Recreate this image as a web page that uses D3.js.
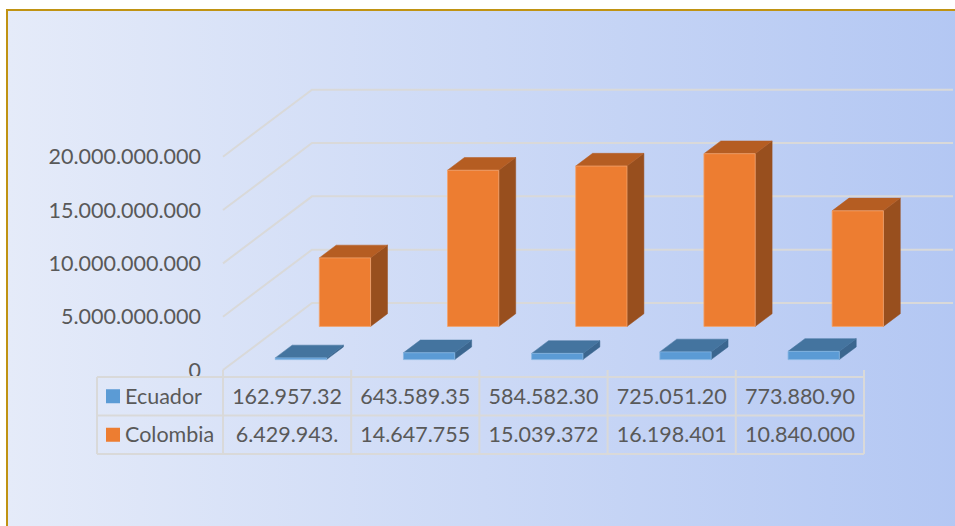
<!DOCTYPE html>
<html>
<head>
<meta charset="utf-8">
<script src="https://cdn.jsdelivr.net/npm/d3@7"></script>
<style>
  body { margin: 0; background: #fff; }
  svg { display: block; }
  text { font-family: Lato, "Open Sans", sans-serif; fill: #595959; }
</style>
</head>
<body>
<svg width="955" height="526"></svg>
<script>
var svg = d3.select("svg");

// data
var periods = ["1", "2", "3", "4", "5"];
var seriesNames = ["Ecuador", "Colombia"];
var ecuador = [162957320, 643589350, 584582300, 725051200, 773880900];
var colombia = [6429943000, 14647755000, 15039372000, 16198401000, 10840000000];
var yTicks = [0, 5000000000, 10000000000, 15000000000, 20000000000];

var width = 955;
var height = 526;
var plot = {left: 223, right: 864, bottom: 370, top: 156.7};
var depth = {dx: 89, dy: -67};

var xScale = d3.scaleBand().domain(periods).range([plot.left, plot.right]);
var yScale = d3.scaleLinear().domain([0, 20000000000]).range([plot.bottom, plot.top]);
// depth 0 = front plane, 1 = back wall
var dxScale = d3.scaleLinear().domain([0, 1]).range([0, depth.dx]);
var dyScale = d3.scaleLinear().domain([0, 1]).range([0, depth.dy]);

function pt(x, v, d) {
  return [x + dxScale(d), yScale(v) + dyScale(d)];
}

var fmtAxis = function(v) {
  return d3.format(",")(v).replace(/,/g, ".");
};
// table cells are too narrow, so the text gets cut like in the original
var fmtCell = function(v) {
  return fmtAxis(v).slice(0, 10);
};

// background + gold frame
var defs = svg.append("defs");
var grad = defs.append("linearGradient").attr("id", "bg")
  .attr("x1", "0%").attr("x2", "100%").attr("y1", "0%").attr("y2", "0%");
grad.append("stop").attr("offset", "0%").attr("stop-color", "#e5ebf9");
grad.append("stop").attr("offset", "100%").attr("stop-color", "#b3c7f3");

svg.append("rect")
  .attr("x", 7).attr("y", 10)
  .attr("width", width).attr("height", height)
  .attr("fill", "url(#bg)")
  .attr("stroke", "#c09313")
  .attr("stroke-width", 2);

// gridlines: diagonal on the side then along the back wall
var line = d3.line();
svg.append("g").selectAll("path")
  .data(yTicks)
  .enter().append("path")
  .attr("d", function(v) {
    return line([pt(plot.left, v, 0), pt(plot.left, v, 1), pt(plot.right, v, 1)]);
  })
  .attr("fill", "none")
  .attr("stroke", "#d9d9d9")
  .attr("stroke-width", 2);

// y axis labels
svg.append("g").selectAll("text")
  .data(yTicks)
  .enter().append("text")
  .attr("x", 201)
  .attr("y", function(v) { return yScale(v); })
  .attr("dy", "0.36em")
  .attr("text-anchor", "end")
  .style("font-size", "21.5px")
  .text(function(v) { return fmtAxis(v); });

// 3D bars
var rows = [
  {name: "Colombia", values: colombia, d0: 0.65, front: "#ed7d31", top: "#b55d22", side: "#984f1e", edge: "#f2a36d"},
  {name: "Ecuador", values: ecuador, d0: 0.155, front: "#5b9bd5", top: "#44749f", side: "#3b668f", edge: "#86b6e2"}
];
var barDepth = 0.19;
var barFrac = 0.4;

rows.forEach(function(row) {
  var g = svg.append("g");
  row.values.forEach(function(v, i) {
    var bw = xScale.bandwidth() * barFrac;
    var x0 = xScale(periods[i]) + (xScale.bandwidth() - bw) / 2;
    var x1 = x0 + bw;
    var d0 = row.d0, d1 = row.d0 + barDepth;
    var front = [pt(x0, 0, d0), pt(x1, 0, d0), pt(x1, v, d0), pt(x0, v, d0)];
    var top = [pt(x0, v, d0), pt(x1, v, d0), pt(x1, v, d1), pt(x0, v, d1)];
    var side = [pt(x1, 0, d0), pt(x1, 0, d1), pt(x1, v, d1), pt(x1, v, d0)];
    g.append("path").attr("d", line(side) + "Z").attr("fill", row.side)
      .attr("stroke", row.side).attr("stroke-width", 0.5);
    g.append("path").attr("d", line(top) + "Z").attr("fill", row.top)
      .attr("stroke", row.top).attr("stroke-width", 0.5);
    g.append("path").attr("d", line(front) + "Z").attr("fill", row.front)
      .attr("stroke", row.edge).attr("stroke-width", 0.8);
  });
});

// data table
var table = {left: 97, top: 377, rowH: 38.5};
var tableData = [
  {name: "Ecuador", values: ecuador, color: "#5b9bd5"},
  {name: "Colombia", values: colombia, color: "#ed7d31"}
];
var tg = svg.append("g");
var gridColor = "#d9d9d9";
var tableBottom = table.top + table.rowH * tableData.length;

// horizontal lines
d3.range(tableData.length + 1).forEach(function(r) {
  tg.append("line")
    .attr("x1", table.left).attr("x2", plot.right)
    .attr("y1", table.top + r * table.rowH).attr("y2", table.top + r * table.rowH)
    .attr("stroke", gridColor).attr("stroke-width", 2);
});
// vertical lines (category boundaries reach up to the floor)
tg.append("line")
  .attr("x1", table.left).attr("x2", table.left)
  .attr("y1", table.top).attr("y2", tableBottom)
  .attr("stroke", gridColor).attr("stroke-width", 2);
periods.concat(["end"]).forEach(function(p, i) {
  var x = i < periods.length ? xScale(p) : plot.right;
  tg.append("line")
    .attr("x1", x).attr("x2", x)
    .attr("y1", plot.bottom).attr("y2", tableBottom)
    .attr("stroke", gridColor).attr("stroke-width", 2);
});

tableData.forEach(function(row, r) {
  var cy = table.top + r * table.rowH + table.rowH / 2;
  tg.append("rect")
    .attr("x", 106).attr("y", cy - 7)
    .attr("width", 14).attr("height", 14)
    .attr("fill", row.color);
  tg.append("text")
    .attr("x", 125).attr("y", cy).attr("dy", "0.36em")
    .style("font-size", "21.5px")
    .text(row.name);
  row.values.forEach(function(v, i) {
    tg.append("text")
      .attr("x", xScale(periods[i]) + xScale.bandwidth() / 2)
      .attr("y", cy).attr("dy", "0.36em")
      .attr("text-anchor", "middle")
      .style("font-size", "21.5px")
      .text(fmtCell(v));
  });
});
</script>
</body>
</html>
